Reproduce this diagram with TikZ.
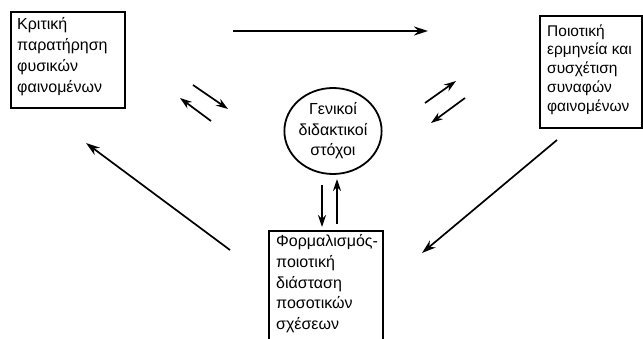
\documentclass[tikz,border=0pt]{standalone}
\usepackage{fontspec}
\setmainfont{Liberation Sans}
\usetikzlibrary{arrows.meta,shapes.geometric}
\tikzset{
  boxframe/.style={draw,line width=1.8pt,anchor=north west,inner sep=0pt},
  linetext/.style={anchor=base west,inner sep=0pt,font=\fontsize{16}{21}\selectfont},
  linetextb/.style={anchor=base west,inner sep=0pt,font=\fontsize{15.5}{19}\selectfont},
  arr/.style={line width=1.7pt,-{Stealth[length=14pt,width=9pt]}},
  sarr/.style={line width=1.7pt,-{Stealth[length=12pt,width=8pt]}}
}
\begin{document}
\begin{tikzpicture}[x=1pt,y=-1pt]
\useasboundingbox (0,0) rectangle (643,338);
% box 1
\node[boxframe,minimum width=114pt,minimum height=96pt] (b1) at (10,11) {};
\foreach \t [count=\i] in {Κριτική,παρατήρηση,φυσικών,φαινομένων}
  \node[linetext] (b1l\i) at (17,{29.5+21*(\i-1)}) {\t};
% box 2
\node[boxframe,minimum width=102pt,minimum height=112pt] (b2) at (539,15) {};
\foreach \t [count=\i] in {Ποιοτική,ερμηνεία και,συσχέτιση,συναφών,φαινομένων}
  \node[linetextb] (b2l\i) at (547,{36+18.8*(\i-1)}) {\t};
% box 3 (cut by the lower edge)
\begin{scope}
\clip (0,0) rectangle (643,338);
\node[boxframe,minimum width=114pt,minimum height=130pt] (b3) at (268,230) {};
\end{scope}
\foreach \t [count=\i] in {Φορμαλισμός-,ποιοτική,διάσταση,ποσοτικών,σχέσεων}
  \node[linetext] (b3l\i) at (276,{246.5+20.75*(\i-1)}) {\t};
% circle
\node[draw,ellipse,line width=1.8pt,minimum width=92pt,minimum height=86pt,inner sep=0pt,align=center,font=\fontsize{16}{20.5}\selectfont] (c) at (333,131)
  {Γενικοί\\διδακτικοί\\στόχοι};
% arrow end points
\coordinate (t1) at (233,31);
\coordinate (t2) at (428,31);
\coordinate (l1) at (230,250);
\coordinate (l2) at (86,143);
\coordinate (r1) at (557,140);
\coordinate (r2) at (422,253);
\coordinate (lp1) at (193,85);
\coordinate (lp2) at (228,109);
\coordinate (lq1) at (211,121);
\coordinate (lq2) at (180,98);
\coordinate (rp1) at (425,103);
\coordinate (rp2) at (456,81);
\coordinate (rq1) at (465,98);
\coordinate (rq2) at (431,123);
\coordinate (vd1) at (322,185);
\coordinate (vd2) at (322,227);
\coordinate (vu1) at (337,224);
\coordinate (vu2) at (337,179);
% arrows
\draw[arr] (t1) -- (t2);
\draw[arr] (l1) -- (l2);
\draw[arr] (r1) -- (r2);
\draw[sarr] (lp1) -- (lp2);
\draw[sarr] (lq1) -- (lq2);
\draw[sarr] (rp1) -- (rp2);
\draw[sarr] (rq1) -- (rq2);
\draw[sarr] (vd1) -- (vd2);
\draw[sarr] (vu1) -- (vu2);
\end{tikzpicture}
\end{document}
